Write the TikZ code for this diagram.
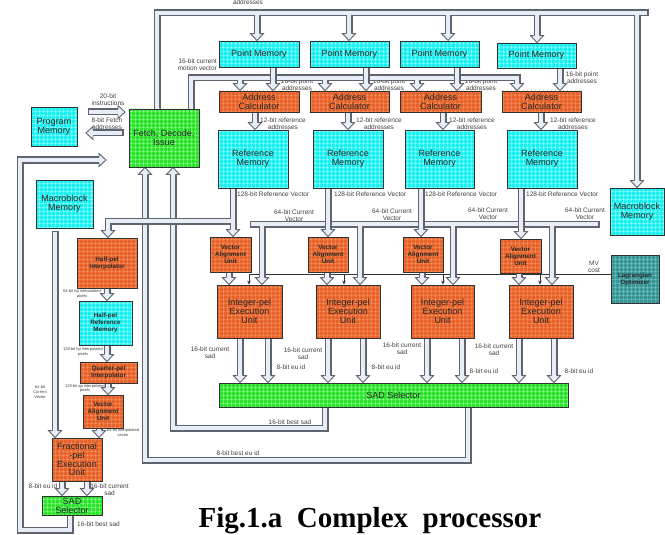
\documentclass[tikz,border=0pt]{standalone}
\usepackage{fontspec}
\setmainfont{Liberation Sans}
\newfontfamily\capfont{Liberation Serif}
\usetikzlibrary{arrows.meta,patterns.meta,backgrounds}

\definecolor{memcyan}{RGB}{25,240,240}
\definecolor{memcyangrid}{RGB}{160,252,252}
\definecolor{unitorange}{RGB}{232,98,42}
\definecolor{unitorangegrid}{RGB}{244,150,100}
\definecolor{selgreen}{RGB}{45,228,45}
\definecolor{selgreengrid}{RGB}{150,250,150}
\definecolor{optteal}{RGB}{55,150,150}
\definecolor{opttealgrid}{RGB}{125,195,195}
\definecolor{pipeline}{RGB}{95,100,110}
\definecolor{pipefill}{RGB}{232,238,248}

\tikzset{
  sz/.style 2 args={minimum width=#1pt, minimum height=#2pt},
  box/.style={draw=black!80, line width=0.8pt, inner sep=0.5pt, align=center,
    font=\fontsize{9}{9}\selectfont, text=black!85},
  gridded/.style={postaction={pattern={Hatch[angle=0,distance=4pt,line width=0.7pt]}, pattern color=#1},
    postaction={draw=black!80, line width=0.8pt}},
  mem/.style={box, fill=memcyan, gridded=memcyangrid},
  unit/.style={box, fill=unitorange, gridded=unitorangegrid},
  sel/.style={box, fill=selgreen, gridded=selgreengrid},
  opt/.style={box, fill=optteal, gridded=opttealgrid},
  small/.style={font=\fontsize{6.3}{6.9}\selectfont\bfseries},
  lbl/.style={font=\fontsize{6.5}{7}\selectfont, text=black!75, align=center, inner sep=0pt},
  tinylbl/.style={lbl, font=\fontsize{4}{4.6}\selectfont},
  pipe/.style={draw=pipeline, double=pipefill, double distance=4.8pt, line width=1.1pt,
    line join=miter, line cap=rect},
  pipe arrow/.style={pipe, shorten >=7pt},
  core/.style={draw=pipefill, line width=4.8pt, line cap=butt},
  mvline/.style={draw=black!80, line width=0.6pt, -{Stealth[length=4pt,width=3.5pt]}},
  head/.pic={\filldraw[fill=pipefill, draw=pipeline, line width=0.9pt, line join=miter, line cap=butt]
    (-2.95,-7) -- (-6.5,-7) -- (0,0) -- (6.5,-7) -- (2.95,-7);},
}

\begin{document}
\begin{tikzpicture}[x=1pt,y=-1pt]
\useasboundingbox (0,0) rectangle (665,535);

% memories, units and selectors
\node[mem, sz={46}{39}] (prog) at (54,126.5) {Program\\Memory};
\node[sel, sz={70}{58}] (fetch) at (164,138) {Fetch, Decode,\\Issue};
\node[mem, sz={80}{26}] (pm1) at (259,54) {Point Memory};
\node[mem, sz={79}{26}] (pm2) at (349.5,54) {Point Memory};
\node[mem, sz={79}{26}] (pm3) at (439.5,54) {Point Memory};
\node[mem, sz={79}{25}] (pm4) at (536.5,55.5) {Point Memory};
\node[unit, sz={80}{21}] (ac1) at (259,101.5) {Address\\Calculator};
\node[unit, sz={79}{21}] (ac2) at (349.5,101.5) {Address\\Calculator};
\node[unit, sz={81}{21}] (ac3) at (440.5,101.5) {Address\\Calculator};
\node[unit, sz={79}{21}] (ac4) at (541.5,101.5) {Address\\Calculator};
\node[mem, sz={70}{58}] (rm1) at (253,159) {Reference\\Memory};
\node[mem, sz={70}{58}] (rm2) at (348,159) {Reference\\Memory};
\node[mem, sz={69}{58}] (rm3) at (439.5,159) {Reference\\Memory};
\node[mem, sz={70}{58}] (rm4) at (542,159) {Reference\\Memory};
\node[mem, sz={54}{47}] (mbr) at (637,211.5) {Macroblock\\Memory};
\node[mem, sz={57}{48}] (mbl) at (64.5,204) {Macroblock\\Memory};
\node[unit, small, sz={41}{35}] (vau1) at (230.5,254.5) {Vector\\Alignment\\Unit};
\node[unit, small, sz={40}{35}] (vau2) at (328,254.5) {Vector\\Alignment\\Unit};
\node[unit, small, sz={40}{35}] (vau3) at (423,254.5) {Vector\\Alignment\\Unit};
\node[unit, small, sz={41}{34}] (vau4) at (520.5,256) {Vector\\Alignment\\Unit};
\node[unit, sz={65}{53}] (ieu1) at (249.5,311.5) {Integer-pel\\Execution\\Unit};
\node[unit, sz={64}{53}] (ieu2) at (348,311.5) {Integer-pel\\Execution\\Unit};
\node[unit, sz={63}{53}] (ieu3) at (442.5,311.5) {Integer-pel\\Execution\\Unit};
\node[unit, sz={64}{53}] (ieu4) at (541,311.5) {Integer-pel\\Execution\\Unit};
\node[opt, small, sz={48}{48}] (lag) at (635,279) {Lagrangian\\Optimizer};
\node[sel, sz={349}{24}] (sad) at (393.5,395) {SAD Selector};
\node[unit, small, sz={60}{50}] (hpi) at (107,263) {Half-pel\\Interpolator};
\node[mem, small, sz={53}{44}] (hprm) at (105.5,323) {Half-pel\\Reference\\Memory};
\node[unit, small, sz={57}{21}] (qpi) at (108.5,372.5) {Quarter-pel\\Interpolator};
\node[unit, small, sz={40}{33}] (vaul) at (103,411.5) {Vector\\Alignment\\Unit};
\node[unit, sz={50}{43}, font=\fontsize{9}{8.7}\selectfont] (fpeu) at (77,459.5) {Fractional\\-pel\\Execution\\Unit};
\node[sel, sz={60}{19}] (sadl) at (72,505.5) {SAD\\Selector};

\node[font=\capfont\bfseries\fontsize{29}{30}\selectfont, anchor=base, inner sep=0pt]
  (cap) at (370,527) {Fig.1.a\ \ Complex\ \ processor};

\begin{scope}[on background layer]
% bus labels
\node[lbl, anchor=base] (lbladdr) at (248,4.5) {addresses};
\node[lbl, anchor=east, align=right] (lblmv) at (217,65) {16-bit current\\motion vector};
\node[lbl] (lblinst) at (108,100) {20-bit\\instructions};
\node[lbl] (lblfa) at (107,123.5) {8-bit Fetch\\addresses};
\foreach \x/\y in {297/84.5,389/84.5,481/84.5,582/78}
  \node[lbl] (pa\x) at (\x,\y) {16-bit point\\addresses};
\foreach \x in {283,379,472,573}
  \node[lbl] (ra\x) at (\x,123.5) {12-bit reference\\addresses};
\foreach \x in {237,334,425,526}
  \node[lbl, anchor=west] (rv\x) at (\x,194) {128-bit Reference Vector};
\foreach \x/\y in {294/216,392/215,488/214,585/214}
  \node[lbl] (cv\x) at (\x,\y) {64-bit Current\\Vector};
\node[lbl] (lblcost) at (594,267) {MV\\cost};
\foreach \x/\y in {210/352.5,303/353.5,402/348.5,494/349.5}
  \node[lbl] (cs\x) at (\x,\y) {16-bit current\\sad};
\foreach \x/\y in {291/367,386/367,484/371,579/371}
  \node[lbl] (eu\x) at (\x,\y) {8-bit eu id};
\node[lbl] (lblbs) at (290,422) {16-bit best sad};
\node[lbl] (lblbe) at (238,453) {8-bit best eu id};
\node[lbl, anchor=west] (lblbsl) at (77,524) {16-bit best sad};
\node[lbl] (lbleul) at (43,486) {8-bit eu id};
\node[lbl] (lblcsl) at (109.5,489.5) {16-bit current\\sad};
\node[tinylbl] (lblcvl) at (40,392) {64-bit\\Current\\Vector};
\node[tinylbl] (lblhp1) at (82,294) {64-bit hp interpolated\\pixels};
\node[tinylbl] (lblhp2) at (83,352) {128-bit hp interpolated\\pixels};
\node[tinylbl] (lblqp) at (85,388.5) {128-bit qp interpolated\\pixels};
\node[tinylbl] (lbliv) at (123,432.5) {64-bit interpolated\\vector};

% mv cost from the optimizer
\draw[mvline] (lag.west |- 0,274) -- (249,274) -- (ieu1.north -| 249,0);
\foreach \x/\n in {344/ieu2,443/ieu3,540/ieu4}
  \draw[mvline] (\x,274) -- (\n.north -| \x,0);

% program memory
\draw[pipe arrow] (91,112) -- (125,112) coordinate (tip);
\pic[rotate=90] at (tip) {head};
\draw[pipe arrow] (120,133) -- (86,133) coordinate (tip);
\pic[rotate=-90] at (tip) {head};

% address bus
\draw[pipe] (fetch.north -| 157,0) -- (157,13) -- (645,13);
\foreach \x/\n in {257/pm1,349/pm2,448/pm3,537/pm4,637/mbr} {
  \draw[pipe arrow] (\x,13) -- (\n.north -| \x,0) coordinate (tip);
  \pic at (tip) {head};
}
\draw[core] (157,20) -- (157,13) -- (645,13);

% motion vector bus
\draw[pipe arrow] (fetch.north -| 191,0) -- (191,78) -- (517,78) -- (ac4.north -| 517,0) coordinate (tip);
\pic at (tip) {head};
\foreach \x/\n in {240/ac1,325/ac2,417/ac3} {
  \draw[pipe arrow] (\x,78) -- (\n.north -| \x,0) coordinate (tip);
  \pic at (tip) {head};
}
\draw[core] (191,78) -- (517,78);

% point memories to address calculators
\foreach \x/\a/\b in {273/pm1/ac1,366/pm2/ac2,457/pm3/ac3,560/pm4/ac4} {
  \draw[pipe arrow] (\a.south -| \x,0) -- (\b.north -| \x,0) coordinate (tip);
  \pic at (tip) {head};
}
% address calculators to reference memories
\foreach \x/\a/\b in {255/ac1/rm1,348/ac2/rm2,443/ac3/rm3,541/ac4/rm4} {
  \draw[pipe arrow] (\a.south -| \x,0) -- (\b.north -| \x,0) coordinate (tip);
  \pic at (tip) {head};
}

% current vector bus
\draw[pipe] (596,224) -- (253.5,224);
\foreach \x/\n in {262/ieu1,360/ieu2,453/ieu3,552/ieu4} {
  \draw[pipe arrow] (\x,224) -- (\n.north -| \x,0) coordinate (tip);
  \pic at (tip) {head};
}
\draw[core] (596,224) -- (253.5,224);

% reference vectors to alignment units
\foreach \x/\a/\b in {233/rm1/vau1,328/rm2/vau2,421/rm3/vau3,521/rm4/vau4} {
  \draw[pipe arrow] (\a.south -| \x,0) -- (\b.north -| \x,0) coordinate (tip);
  \pic at (tip) {head};
}
% alignment units to execution units
\foreach \x/\a/\b in {229/vau1/ieu1,327/vau2/ieu2,422/vau3/ieu3,519/vau4/ieu4} {
  \draw[pipe arrow] (\a.south -| \x,0) -- (\b.north -| \x,0) coordinate (tip);
  \pic at (tip) {head};
}
% execution units to sad selector
\foreach \x/\n in {240/ieu1,268/ieu1,328/ieu2,363/ieu2,427/ieu3,462/ieu3,519/ieu4,554/ieu4} {
  \draw[pipe arrow] (\n.south -| \x,0) -- (sad.north -| \x,0) coordinate (tip);
  \pic at (tip) {head};
}

% best sad and best eu id back to fetch
\draw[pipe arrow] (sad.south -| 325,0) -- (325,428) -- (173,428) -- (fetch.south -| 173,0) coordinate (tip);
\pic[rotate=180] at (tip) {head};
\draw[pipe arrow] (sad.south -| 468,0) -- (468,460) -- (145,460) -- (fetch.south -| 145,0) coordinate (tip);
\pic[rotate=180] at (tip) {head};

% reference vector to the half-pel interpolator
\draw[pipe arrow] (233,221) -- (108,221) -- (hpi.north -| 108,0) coordinate (tip);
\pic at (tip) {head};
\draw[core] (rm1.south -| 233,0) -- (233,228);

% fractional-pel chain
\draw[pipe arrow] (55,234.5) -- (fpeu.north -| 55,0) coordinate (tip);
\pic at (tip) {head};
\foreach \x/\a/\b in {107/hpi/hprm,107/hprm/qpi,108/qpi/vaul,99/vaul/fpeu,62/fpeu/sadl,87/fpeu/sadl} {
  \draw[pipe arrow] (\a.south -| \x,0) -- (\b.north -| \x,0) coordinate (tip);
  \pic at (tip) {head};
}
\draw[pipe arrow] (sadl.south -| 70,0) -- (70,530) -- (20,530) -- (20,160) -- (106,160) coordinate (tip);
\pic[rotate=90] at (tip) {head};
\end{scope}
\end{tikzpicture}
\end{document}
